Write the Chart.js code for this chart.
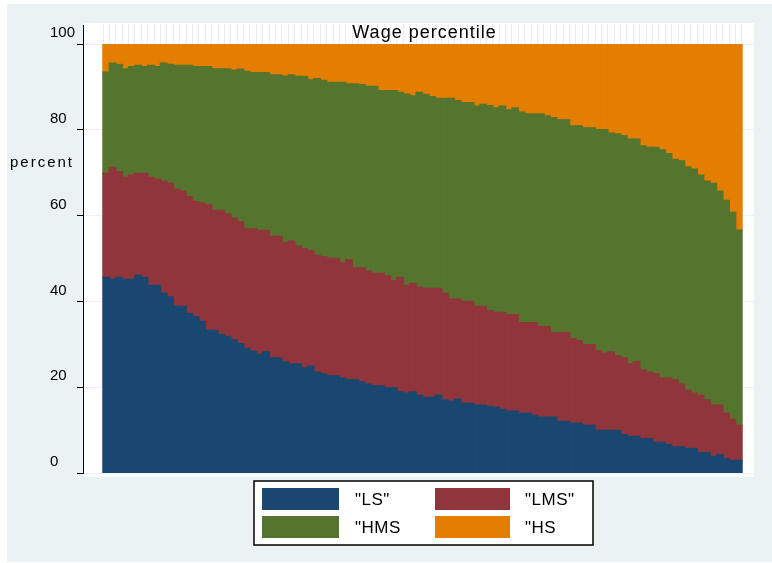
<!DOCTYPE html>
<html><head><meta charset="utf-8">
<script src="https://cdn.jsdelivr.net/npm/chart.js@4.4.1/dist/chart.umd.min.js"></script>
<style>html,body{margin:0;padding:0;background:#fff;}canvas{display:block;}</style>
</head><body>
<canvas id="c" width="772" height="563"></canvas>
<script>
const percentiles = [
  1,2,3,4,5,6,7,8,9,10,11,12,13,14,15,16,17,18,19,20,
  21,22,23,24,25,26,27,28,29,30,31,32,33,34,35,36,37,38,39,40,
  41,42,43,44,45,46,47,48,49,50,51,52,53,54,55,56,57,58,59,60,
  61,62,63,64,65,66,67,68,69,70,71,72,73,74,75,76,77,78,79,80,
  81,82,83,84,85,86,87,88,89,90,91,92,93,94,95,96,97,98,99,100
];
const seriesNames = ['"LS"', '"LMS"', '"HMS', '"HS'];
const yTicks = [0, 20, 40, 60, 80, 100];

const lsShare = [
  45.6,45.1,45.6,45.1,45.1,46.1,45.6,43.7,43.7,41.9,
  41.0,38.8,38.8,37.2,36.4,35.3,33.2,33.2,32.2,31.8,
  31.0,30.1,29.0,28.4,27.6,28.2,26.8,26.8,25.9,25.4,
  25.4,24.5,24.9,23.5,23.1,22.6,22.6,22.1,21.7,21.7,
  21.2,20.7,20.3,20.3,19.8,19.8,18.9,18.6,18.9,18.1,
  17.6,17.6,18.1,17.0,16.7,17.2,16.2,16.2,15.8,15.8,
  15.5,15.3,14.8,14.4,14.4,13.9,13.9,13.4,13.0,13.0,
  13.0,12.0,12.0,11.6,11.6,11.1,11.1,9.9,9.9,9.9,
  9.9,8.9,8.5,8.5,8.0,8.0,7.1,7.1,6.6,6.1,
  6.1,5.7,5.7,4.7,4.7,3.8,4.3,3.3,2.9,2.9
];
const lmsShare = [
  24.2,26.1,24.6,23.8,24.3,23.7,24.2,25.2,24.8,26.1,
  26.5,27.3,26.9,27.2,26.9,27.6,29.3,28.0,29.0,28.6,
  28.4,28.4,27.9,28.5,28.9,28.3,28.3,28.3,27.8,28.6,
  27.5,27.8,26.9,27.2,27.3,27.4,27.4,26.8,28.0,26.1,
  26.6,26.3,26.2,26.2,26.1,25.0,26.7,25.1,25.3,25.2,
  25.4,25.4,24.9,24.9,23.8,23.3,23.8,23.8,23.0,23.0,
  22.3,22.1,22.6,22.5,22.5,21.1,21.1,21.6,21.1,21.1,
  19.7,20.7,20.7,19.7,19.2,18.8,18.8,18.6,18.0,18.3,
  17.4,17.9,16.9,17.4,16.0,15.5,16.0,15.0,15.5,15.6,
  14.6,13.6,12.9,13.4,12.3,12.0,11.5,10.6,9.6,8.2
];
const hmsShare = [
  23.6,24.3,25.0,25.3,25.3,25.2,24.9,26.1,26.2,27.5,
  27.7,28.9,29.3,30.6,31.4,31.8,32.2,33.0,33.0,33.8,
  34.4,35.6,36.7,36.4,36.8,36.8,37.7,37.7,38.8,38.8,
  39.5,40.1,39.8,41.2,41.1,41.0,41.0,42.1,41.0,42.9,
  42.7,43.1,43.6,42.6,43.2,44.3,43.1,44.6,43.7,45.4,
  45.2,44.7,44.3,45.4,46.8,46.3,46.3,46.3,46.7,47.1,
  47.8,47.7,48.1,47.7,48.2,49.1,48.7,48.7,49.6,49.1,
  50.1,49.6,49.6,49.6,50.1,50.5,50.5,51.5,52.1,51.0,
  51.7,51.8,52.4,51.9,52.2,52.4,52.8,53.2,52.3,51.4,
  52.0,52.0,52.2,51.3,51.0,51.7,49.9,49.6,48.2,45.5
];
const hsShare = [
  6.6,4.5,4.8,5.8,5.3,5.0,5.3,5.0,5.3,4.5,
  4.8,5.0,5.0,5.0,5.3,5.3,5.3,5.8,5.8,5.8,
  6.2,5.9,6.4,6.7,6.7,6.7,7.2,7.2,7.5,7.2,
  7.6,7.6,8.4,8.1,8.5,9.0,9.0,9.0,9.3,9.3,
  9.5,9.9,9.9,10.9,10.9,10.9,11.3,11.7,12.1,11.3,
  11.8,12.3,12.7,12.7,12.7,13.2,13.7,13.7,14.5,14.1,
  14.4,14.9,14.5,15.4,14.9,15.9,16.3,16.3,16.3,16.8,
  17.2,17.7,17.7,19.1,19.1,19.6,19.6,20.0,20.0,20.8,
  21.0,21.4,22.2,22.2,23.8,24.1,24.1,24.7,25.6,26.9,
  27.3,28.7,29.2,30.6,32.0,32.5,34.3,36.5,39.3,43.4
];

const seriesColors = ['#1a476f', '#90353b', '#55752f', '#e37e00'];
const FONT = '"Liberation Sans", Arial, sans-serif';

const decor = {
  id: 'decor',
  beforeDraw(chart) {
    const { ctx, chartArea: a } = chart;
    ctx.save();
    ctx.fillStyle = '#ffffff';
    ctx.fillRect(0, 0, chart.width, chart.height);
    ctx.fillStyle = '#eaf2f3';
    ctx.fillRect(7, 4, chart.width - 7, 558);
    ctx.fillStyle = '#ffffff';
    ctx.fillRect(a.left + 1, 23, a.right - a.left - 1, a.bottom + 4 - 23);
    ctx.restore();
  },
  afterDraw(chart) {
    const { ctx, chartArea: a, scales } = chart;
    ctx.save();
    ctx.strokeStyle = '#000'; ctx.lineWidth = 1;
    ctx.beginPath(); ctx.moveTo(Math.round(a.left) + 0.5, 25); ctx.lineTo(Math.round(a.left) + 0.5, a.top); ctx.stroke();
    ctx.fillStyle = '#000';
    ctx.font = '18px ' + FONT;
    ctx.letterSpacing = '1px';
    ctx.textAlign = 'center'; ctx.textBaseline = 'alphabetic';
    ctx.fillText('Wage percentile', scales.x.getPixelForValue(50.5) + 2, 38);
    ctx.font = '15px ' + FONT;
    ctx.letterSpacing = '2px';
    ctx.textAlign = 'left'; ctx.textBaseline = 'middle';
    ctx.fillText('percent', 10, 163);
    ctx.letterSpacing = '0.5px';
    ctx.fillStyle = '#ffffff';
    ctx.fillRect(254, 481, 339, 64);
    ctx.strokeStyle = '#000'; ctx.lineWidth = 1.5;
    ctx.strokeRect(254, 481, 339, 64);
    const swX = [262, 435], swW = [77, 75], txX = [355, 525];
    const rowY = [488, 516], rowH = 22;
    ctx.font = '17px ' + FONT;
    chart.data.datasets.forEach((ds, k) => {
      const col = k % 2, row = Math.floor(k / 2);
      ctx.fillStyle = ds.backgroundColor;
      ctx.fillRect(swX[col], rowY[row], swW[col], rowH);
      ctx.fillStyle = '#000';
      ctx.textAlign = 'left'; ctx.textBaseline = 'middle';
      ctx.fillText(ds.label, txX[col], rowY[row] + rowH / 2 + 1);
    });
    ctx.restore();
  }
};

const series = [lsShare, lmsShare, hmsShare, hsShare];

new Chart(document.getElementById('c').getContext('2d'), {
  type: 'bar',
  data: {
    datasets: series.map((arr, k) => ({
      label: seriesNames[k],
      data: arr.map((v, i) => ({ x: percentiles[i], y: v })),
      backgroundColor: seriesColors[k],
      borderWidth: 0,
      inflateAmount: 0.75,
      barPercentage: 1,
      categoryPercentage: 1
    }))
  },
  options: {
    responsive: false,
    animation: false,
    devicePixelRatio: 1,
    layout: { padding: { top: 23, left: 50, right: 18, bottom: 90 } },
    plugins: { legend: { display: false }, tooltip: { enabled: false }, title: { display: false } },
    scales: {
      x: {
        type: 'linear', position: 'top', stacked: true, offset: false,
        min: percentiles[0] - 3.63, max: percentiles[percentiles.length - 1] + 2.38,
        afterBuildTicks: s => { s.ticks = percentiles.map(p => ({ value: p - 0.5 })).concat([{ value: percentiles[percentiles.length - 1] + 0.5 }]); },
        ticks: { display: false },
        grid: { offset: false, drawOnChartArea: false, drawTicks: true, tickLength: 20, color: '#e8edef', lineWidth: 1 },
        border: { display: false },
        afterFit: s => { s.height = 21; }
      },
      y: {
        type: 'linear', position: 'left', stacked: true, min: 0, max: 100,
        afterBuildTicks: s => { s.ticks = yTicks.map(v => ({ value: v })); },
        ticks: { font: { family: FONT, size: 15 }, color: '#000', crossAlign: 'far', labelOffset: -11, padding: 0 },
        grid: { color: '#eaf2f3', lineWidth: 1, tickLength: 6, tickColor: '#000', drawTicks: true },
        border: { display: true, color: '#000', width: 1 },
        afterFit: s => { s.width = 33; }
      }
    }
  },
  plugins: [decor]
});
</script>
</body></html>
